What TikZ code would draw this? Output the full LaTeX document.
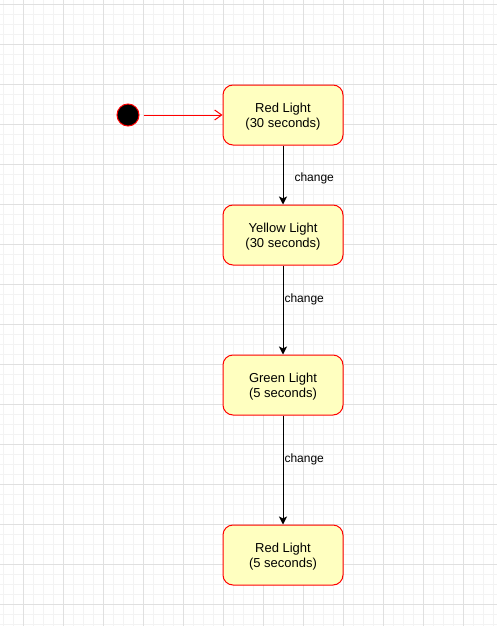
\documentclass[tikz,border=0pt]{standalone}
\usepackage{fontspec}
\setmainfont{Liberation Sans}
\usetikzlibrary{arrows.meta,positioning}

\definecolor{gridmajor}{HTML}{E0E0E0}
\definecolor{gridminor}{HTML}{F3F3F3}
\definecolor{statefill}{HTML}{FFFFC0}
\definecolor{stateline}{HTML}{FF0000}

\tikzset{
  state/.style={draw=stateline, fill=statefill, line width=1pt, rounded corners=10pt,
    minimum width=120pt, minimum height=60pt, align=center, inner sep=0pt,
    text depth=-1.5pt, font=\fontsize{13}{15}\selectfont},
  startdot/.style={circle, draw=stateline, fill=black, line width=1pt, minimum size=22pt, inner sep=0pt},
  flow/.style={-{Stealth[length=8pt,width=8pt,inset=2pt]}, draw=black, line width=1pt},
  entry/.style={-{Straight Barb[length=7pt,width=10pt]}, draw=stateline, line width=1pt},
  lbl/.style={anchor=west, inner sep=0pt, yshift=-2pt, font=\fontsize{12}{14}\selectfont}
}

\begin{document}
\begin{tikzpicture}[x=1pt, y=-1pt]
    % Background and grid
    \useasboundingbox (0,0) rectangle (497,626);
    \fill[white] (0,0) rectangle (497,626);
    \foreach \x in {3,13,...,493} \draw[gridminor, line width=0.8pt] (\x,0) -- (\x,626);
    \foreach \y in {4,14,...,624} \draw[gridminor, line width=0.8pt] (0,\y) -- (497,\y);
    \foreach \x in {23,63,...,493} \draw[gridmajor, line width=0.8pt] (\x,0) -- (\x,626);
    \foreach \y in {4,44,...,624} \draw[gridmajor, line width=0.8pt] (0,\y) -- (497,\y);

    % States
    \node[startdot] (start) at (128,115) {};
    \node[state] (red30) at (283,115) {Red Light\\(30 seconds)};
    \node[state] (yellow30) at (283,235) {Yellow Light\\(30 seconds)};
    \node[state] (green5) at (283,385) {Green Light\\(5 seconds)};
    \node[state] (red5) at (283,555) {Red Light\\(5 seconds)};

    % Transitions
    \draw[entry, shorten <=4pt] (start) -- (red30);
    \draw[flow] (red30) -- node[lbl, pos=0.53, xshift=11pt] {change} (yellow30);
    \draw[flow] (yellow30) -- node[lbl, pos=0.36, xshift=1pt] {change} (green5);
    \draw[flow] (green5) -- node[lbl, pos=0.38, xshift=1pt] {change} (red5);
\end{tikzpicture}
\end{document}
